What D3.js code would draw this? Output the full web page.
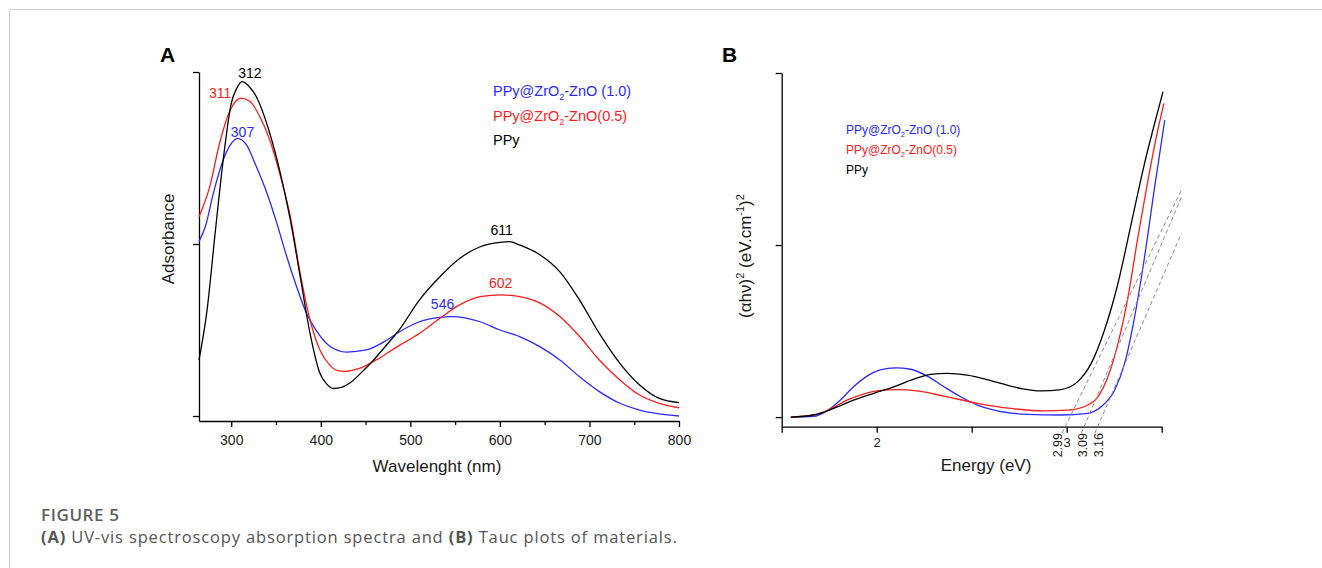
<!DOCTYPE html>
<html>
<head>
<meta charset="utf-8">
<script src="https://cdn.jsdelivr.net/npm/d3@7"></script>
<style>
  body { margin: 0; background: #fff; }
  svg { display: block; }
  .chart text { font-family: "Liberation Sans", Arial, sans-serif; }
  .caption { font-family: "Open Sans", sans-serif; }
</style>
</head>
<body>
<div id="figure"></div>
<script>
// ---- data ----
// Panel A : absorbance (arb. units) vs wavelength (nm)
const absZn10 = [[264,0.507],[271,0.550],[280,0.647],[291,0.744],[299,0.788],[307,0.807],[317,0.788],[328,0.725],[340,0.647],[351,0.560],[362,0.463],[373,0.376],[384,0.299],[395,0.248],[410,0.203],[429,0.186],[451,0.192],[474,0.221],[488,0.245],[510,0.274],[533,0.287],[546,0.289],[578,0.274],[600,0.250],[622,0.231],[645,0.201],[667,0.163],[689,0.114],[711,0.071],[734,0.037],[756,0.017],[778,0.006],[800,0.000]];
const absZn05 = [[264,0.579],[276,0.667],[287,0.793],[299,0.890],[305,0.915],[311,0.924],[321,0.914],[332,0.870],[343,0.802],[354,0.706],[366,0.579],[377,0.415],[388,0.279],[399,0.192],[410,0.148],[419,0.132],[428,0.130],[444,0.139],[462,0.163],[485,0.201],[510,0.240],[533,0.284],[555,0.323],[578,0.347],[602,0.352],[622,0.347],[645,0.328],[667,0.289],[689,0.231],[711,0.163],[734,0.105],[756,0.061],[778,0.037],[800,0.024]];
const absPPy = [[264,0.163],[273,0.308],[282,0.531],[291,0.744],[300,0.909],[306,0.952],[312,0.972],[320,0.958],[328,0.928],[343,0.822],[354,0.715],[366,0.570],[377,0.405],[388,0.240],[399,0.124],[407,0.092],[414,0.080],[423,0.083],[432,0.095],[446,0.128],[458,0.160],[473,0.205],[488,0.252],[510,0.337],[533,0.405],[555,0.458],[578,0.492],[600,0.505],[611,0.507],[622,0.497],[645,0.468],[667,0.419],[689,0.337],[711,0.240],[734,0.153],[756,0.090],[778,0.051],[800,0.039]];

// peaks marked on panel A : [wavelength, series index]
const peaksA = [[312,2],[311,1],[307,0],[611,2],[602,1],[546,0]];

// Panel B : (alpha h nu)^2 vs energy (eV)
const taucZn10 = [[1.548,0],[1.667,0.002],[1.738,0.018],[1.808,0.049],[1.878,0.088],[1.949,0.119],[2.019,0.137],[2.099,0.143],[2.178,0.139],[2.266,0.119],[2.354,0.088],[2.442,0.059],[2.530,0.035],[2.618,0.020],[2.794,0.008],[2.970,0.006],[3.111,0.011],[3.181,0.030],[3.252,0.078],[3.305,0.156],[3.357,0.290],[3.410,0.466],[3.463,0.669],[3.516,0.863]];
const taucZn05 = [[1.548,0],[1.702,0.011],[1.773,0.028],[1.843,0.049],[1.914,0.064],[2.002,0.076],[2.107,0.080],[2.213,0.076],[2.354,0.061],[2.530,0.040],[2.706,0.025],[2.882,0.018],[3.005,0.020],[3.111,0.035],[3.164,0.059],[3.217,0.117],[3.270,0.214],[3.323,0.350],[3.375,0.524],[3.428,0.689],[3.472,0.815],[3.512,0.912]];
const taucPPy = [[1.548,0],[1.667,0.006],[1.773,0.025],[1.878,0.049],[1.984,0.069],[2.090,0.088],[2.195,0.110],[2.283,0.124],[2.372,0.127],[2.477,0.122],[2.618,0.103],[2.759,0.083],[2.864,0.076],[2.970,0.080],[3.058,0.103],[3.129,0.156],[3.199,0.253],[3.270,0.389],[3.340,0.563],[3.410,0.738],[3.463,0.854],[3.507,0.946]];

// band gaps (tangent lines): start and end points in data units
const bandGaps = [2.99, 3.09, 3.16];
const tangentStart = [[2.975,-0.047],[3.077,-0.047],[3.148,-0.047]];
const tangentEnd = [[3.604,0.660],[3.604,0.640],[3.604,0.534]];

const wavelengthTicks = [300, 400, 500, 600, 700, 800];
const wavelengthMinor = [350, 450, 550, 650, 750];
const energyTicks = [1.5, 2, 2.5, 3, 3.5];
const energyLabels = [2, 3];
const yTicks = [0, 0.5, 1];

const legendParts = [["PPy@ZrO", "2", "-ZnO (1.0)"], ["PPy@ZrO", "2", "-ZnO(0.5)"], ["PPy"]];
const colors = ["#2a2aff", "#ff1c1c", "#000000"];

// ---- svg ----
const svg = d3.select("#figure")
  .append("svg")
    .attr("width", 1322)
    .attr("height", 568);

// light frame around the figure
svg.append("path")
  .attr("d", "M9.5,568V9.5H1322")
  .attr("fill", "none")
  .attr("stroke", "#cfcfcf");

const chart = svg.append("g").attr("class", "chart");

function styleAxis(g) {
  g.selectAll(".domain, .tick line").attr("stroke", "#000").attr("stroke-width", 1.3);
  g.selectAll("text").attr("font-size", "14px").attr("fill", "#1a1a1a");
}

function legend(g, x, y0, step, size) {
  legendParts.forEach((parts, i) => {
    const t = g.append("text")
      .attr("x", x)
      .attr("y", y0 + i * step)
      .attr("font-size", size + "px")
      .attr("fill", colors[i]);
    t.append("tspan").text(parts[0]);
    if (parts.length > 1) {
      t.append("tspan").attr("font-size", (size * 0.62) + "px").attr("dy", size * 0.3).text(parts[1]);
      t.append("tspan").attr("dy", -size * 0.3).text(parts[2]);
    }
  });
}

// ================= Panel A =================
const xA = d3.scaleLinear().domain([264, 800]).range([199, 679]);
const yA = d3.scaleLinear().domain([-0.0145, 1]).range([421, 72]);
const gA = chart.append("g");

gA.append("g")
  .attr("transform", "translate(0,421)")
  .call(d3.axisBottom(xA).tickValues(wavelengthTicks).tickSize(6).tickSizeOuter(0).tickPadding(8))
  .call(styleAxis);
gA.append("g")
  .attr("transform", "translate(0,421)")
  .call(d3.axisBottom(xA).tickValues(wavelengthMinor).tickSize(4).tickFormat(""))
  .call(styleAxis)
  .select(".domain").remove();
gA.append("g")
  .attr("transform", "translate(199,0)")
  .call(d3.axisLeft(yA).tickValues(yTicks).tickSize(6).tickSizeOuter(0).tickFormat(""))
  .call(styleAxis);

const lineA = d3.line()
  .x(d => xA(d[0]))
  .y(d => yA(d[1]))
  .curve(d3.curveMonotoneX);

const seriesA = [absZn10, absZn05, absPPy];
gA.selectAll(".curveA")
  .data(seriesA)
  .enter()
  .append("path")
    .attr("d", lineA)
    .attr("fill", "none")
    .attr("stroke", (d, i) => colors[i])
    .attr("stroke-width", 1.3);

// peak labels (offsets are layout only)
const peakOffsets = [[8, -4], [-21, 0], [5, -1], [-8, -7], [-1, -7], [-9, -8]];
peaksA.forEach(([wl, s], i) => {
  const pt = seriesA[s].reduce((a, b) => Math.abs(b[0] - wl) < Math.abs(a[0] - wl) ? b : a);
  gA.append("text")
    .attr("x", xA(wl) + peakOffsets[i][0])
    .attr("y", yA(pt[1]) + peakOffsets[i][1])
    .attr("text-anchor", "middle")
    .attr("font-size", "14px")
    .attr("fill", colors[s])
    .text(wl);
});

legend(gA, 493, 96, 24.5, 14.5);

gA.append("text")
  .attr("x", 437).attr("y", 472)
  .attr("text-anchor", "middle")
  .attr("font-size", "17px")
  .attr("fill", "#1a1a1a")
  .text("Wavelenght (nm)");

gA.append("text")
  .attr("transform", "translate(174,239) rotate(-90)")
  .attr("text-anchor", "middle")
  .attr("font-size", "17px")
  .attr("fill", "#1a1a1a")
  .text("Adsorbance");

gA.append("text")
  .attr("x", 160).attr("y", 62)
  .attr("font-size", "21px")
  .attr("font-weight", "bold")
  .text("A");

// ================= Panel B =================
const xB = d3.scaleLinear().domain([1.5, 3.5]).range([781.7, 1161.7]);
const yB = d3.scaleLinear().domain([-0.028, 1]).range([426.7, 73]);
const gB = chart.append("g");

gB.append("g")
  .attr("transform", "translate(0,426.7)")
  .call(d3.axisBottom(xB).tickValues(energyTicks).tickSize(6).tickSizeOuter(0).tickPadding(5)
    .tickFormat(d => energyLabels.includes(d) ? d : ""))
  .call(styleAxis)
  .call(g => g.selectAll("text").attr("font-size", "13px"));
gB.append("g")
  .attr("transform", "translate(781.7,0)")
  .call(d3.axisLeft(yB).tickValues(yTicks).tickSize(6).tickSizeOuter(0).tickFormat(""))
  .call(styleAxis);

const lineB = d3.line()
  .x(d => xB(d[0]))
  .y(d => yB(d[1]))
  .curve(d3.curveMonotoneX);

gB.selectAll(".curveB")
  .data([taucZn10, taucZn05, taucPPy])
  .enter()
  .append("path")
    .attr("d", lineB)
    .attr("fill", "none")
    .attr("stroke", (d, i) => colors[i])
    .attr("stroke-width", 1.3);

// tangent (extrapolation) lines
gB.selectAll(".tangent")
  .data(bandGaps.map((g, i) => [tangentStart[i], tangentEnd[i]]))
  .enter()
  .append("path")
    .attr("d", d3.line().x(d => xB(d[0])).y(d => yB(d[1])))
    .attr("fill", "none")
    .attr("stroke", "#8a8a8a")
    .attr("stroke-width", 1)
    .attr("stroke-dasharray", "4,3");

const gapLabelShift = [-3, 3, 6];
bandGaps.forEach((g, i) => {
  gB.append("text")
    .attr("transform", `translate(${xB(g) + gapLabelShift[i]},433) rotate(-90)`)
    .attr("text-anchor", "end")
    .attr("font-size", "12.5px")
    .attr("fill", "#1a1a1a")
    .text(g.toFixed(2));
});

legend(gB, 846, 133.5, 20, 12);

gB.append("text")
  .attr("x", 986).attr("y", 471)
  .attr("text-anchor", "middle")
  .attr("font-size", "17px")
  .attr("fill", "#1a1a1a")
  .text("Energy (eV)");

const yTitle = gB.append("text")
  .attr("transform", "translate(751,256) rotate(-90)")
  .attr("text-anchor", "middle")
  .attr("font-size", "17px")
  .attr("fill", "#1a1a1a");
yTitle.append("tspan").text("(αhν)");
yTitle.append("tspan").attr("font-size", "11px").attr("dy", -7).text("2");
yTitle.append("tspan").attr("dy", 7).text(" (eV.cm");
yTitle.append("tspan").attr("font-size", "11px").attr("dy", -7).text("-1");
yTitle.append("tspan").attr("dy", 7).text(")");
yTitle.append("tspan").attr("font-size", "11px").attr("dy", -7).text("2");

gB.append("text")
  .attr("x", 722).attr("y", 62)
  .attr("font-size", "21px")
  .attr("font-weight", "bold")
  .text("B");

// ================= caption =================
svg.append("text")
  .attr("class", "caption")
  .attr("x", 41).attr("y", 521)
  .attr("font-size", "17px")
  .attr("font-weight", 600)
  .attr("letter-spacing", "0.6px")
  .attr("fill", "#5e5e5e")
  .text("FIGURE 5");

const cap = svg.append("text")
  .attr("class", "caption")
  .attr("x", 41).attr("y", 543)
  .attr("font-size", "16.5px")
  .attr("letter-spacing", "0.85px")
  .attr("fill", "#555");
cap.append("tspan").attr("font-weight", 700).text("(A)");
cap.append("tspan").text(" UV-vis spectroscopy absorption spectra and ");
cap.append("tspan").attr("font-weight", 700).text("(B)");
cap.append("tspan").text(" Tauc plots of materials.");
</script>
</body>
</html>
